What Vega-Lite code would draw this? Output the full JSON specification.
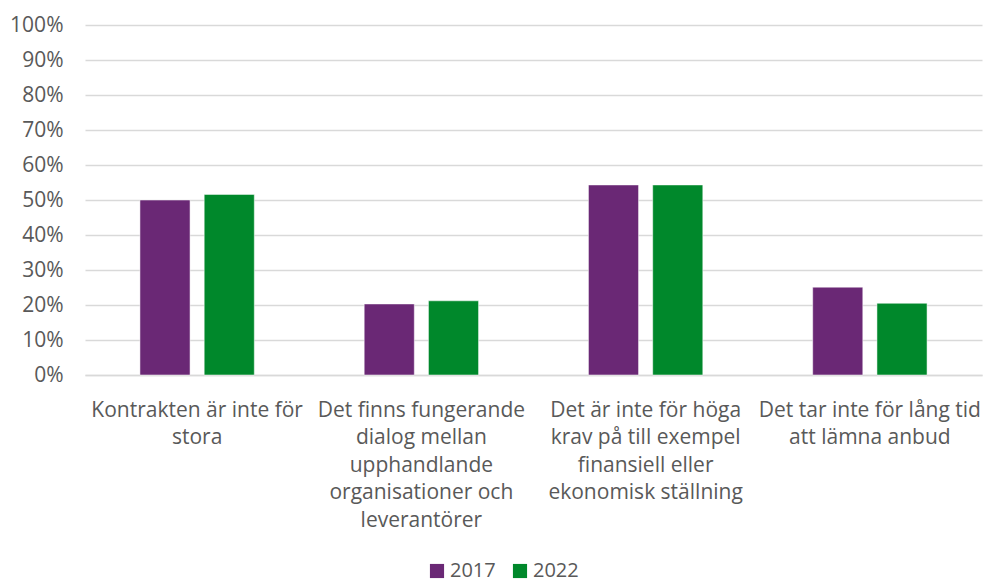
{
  "$schema": "https://vega.github.io/schema/vega-lite/v6.json",
  "width": 897,
  "height": 350,
  "autosize": "none",
  "padding": {"left": 85, "top": 25, "right": 2, "bottom": 208},
  "background": "white",
  "config": {
    "view": {"stroke": null},
    "font": "Open Sans",
    "axis": {"labelFont": "Open Sans", "labelColor": "#595959", "labelFontSize": 21}
  },
  "data": {
    "values": [
      {"category": "Kontrakten är inte för\nstora", "year": "2017", "value": 0.50},
      {"category": "Kontrakten är inte för\nstora", "year": "2022", "value": 0.516},
      {"category": "Det finns fungerande\ndialog mellan\nupphandlande\norganisationer och\nleverantörer", "year": "2017", "value": 0.203},
      {"category": "Det finns fungerande\ndialog mellan\nupphandlande\norganisationer och\nleverantörer", "year": "2022", "value": 0.212},
      {"category": "Det är inte för höga\nkrav på till exempel\nfinansiell eller\nekonomisk ställning", "year": "2017", "value": 0.543},
      {"category": "Det är inte för höga\nkrav på till exempel\nfinansiell eller\nekonomisk ställning", "year": "2022", "value": 0.543},
      {"category": "Det tar inte för lång tid\natt lämna anbud", "year": "2017", "value": 0.251},
      {"category": "Det tar inte för lång tid\natt lämna anbud", "year": "2022", "value": 0.205}
    ]
  },
  "mark": {"type": "bar", "stroke": "#ffffff", "strokeOpacity": 0.5, "strokeWidth": 1},
  "encoding": {
    "x": {
      "field": "category",
      "type": "nominal",
      "sort": null,
      "scale": {"paddingInner": 0.49, "paddingOuter": 0.245},
      "axis": {
        "title": null,
        "labelAngle": 0,
        "labelExpr": "split(datum.label, '\\n')",
        "labelLineHeight": 27.5,
        "labelPadding": 35,
        "labelLimit": 0,
        "labelFontSize": 21,
        "labelOverlap": false,
        "ticks": false,
        "domainColor": "#d9d9d9",
        "domainWidth": 1.5,
        "labelBaseline": "middle"
      }
    },
    "xOffset": {"field": "year", "type": "nominal", "scale": {"paddingInner": 0.22, "paddingOuter": 0}},
    "y": {
      "field": "value",
      "type": "quantitative",
      "scale": {"domain": [0, 1]},
      "axis": {
        "title": null,
        "format": ".0%",
        "values": [0, 0.1, 0.2, 0.3, 0.4, 0.5, 0.6, 0.7, 0.8, 0.9, 1],
        "labelOverlap": false,
        "labelFontSize": 21,
        "domain": false,
        "ticks": false,
        "labelPadding": 22,
        "gridColor": "#d9d9d9",
        "gridWidth": 1.5
      }
    },
    "color": {
      "field": "year",
      "type": "nominal",
      "scale": {"domain": ["2017", "2022"], "range": ["#6a2875", "#00882b"]},
      "legend": {
        "title": null,
        "orient": "none",
        "direction": "horizontal",
        "legendX": 342,
        "legendY": 536,
        "symbolType": "square",
        "symbolSize": 200,
        "symbolStrokeWidth": 0,
        "labelFontSize": 20,
        "labelColor": "#595959",
        "labelFont": "Open Sans",
        "columnPadding": 14,
        "labelOffset": 3
      }
    }
  }
}
